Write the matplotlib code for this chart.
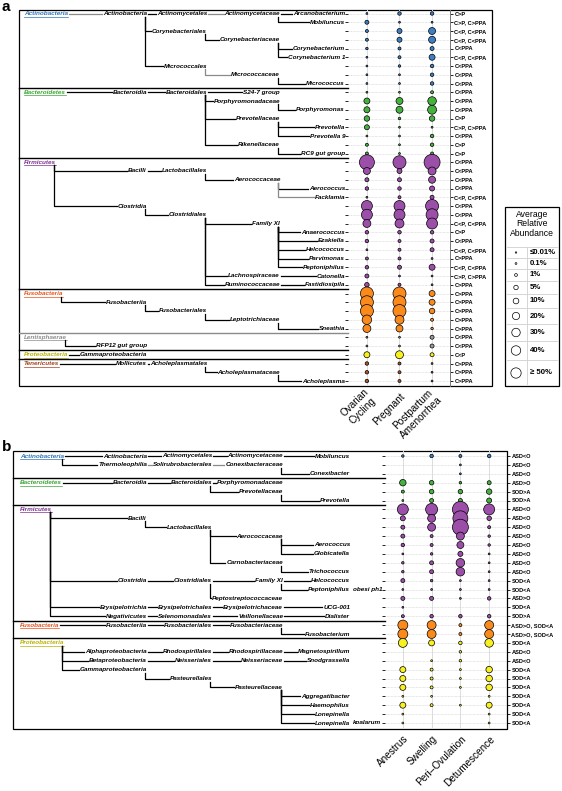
import matplotlib
matplotlib.use('Agg')
import matplotlib.pyplot as plt
from matplotlib.transforms import ScaledTranslation
import numpy as np

plt.rcParams['font.family'] = ['Liberation Sans', 'DejaVu Sans']

W, H = 562, 791
nan = float('nan')

# ---------------- panel a: average relative abundance (%) ----------------
a_states = ['Ovarian\nCycling', 'Pregnant', 'Postpartum\nAmenorrhea']
a_phylum = (['Actinobacteria'] * 9 + ['Bacteroidetes'] * 8 + ['Firmicutes'] * 15 +
            ['Fusobacteria'] * 5 + ['Lentisphaerae'] * 2 + ['Proteobacteria'] + ['Tenericutes'] * 3)
a_ovarian = [0.01, 1.5, 0.45, 0.45, 0.17, 0.01, 0.01, 0.01, 0.01, 0.01,
             5.8, 5.8, 4.4, 3.3, 0.01, 0.45, 0.45,
             68, 9, 1.5, 0.9, 0.01, 31, 31, 13, 0.9, 0.9, 0.01, 0.45, 0.9, 1.5, 2.3,
             48, 48, 48, 21, 13,
             0.01, 0.01,
             5.8,
             0.9, 0.9, 0.9]
a_pregnant = [0.9, 0.01, 3.3, 3.3, 0.45, 0.45, 0.17, 0.01, 0.01, 0.01,
              9, 9, 0.17, 0.01, 0.01, 0.01, 0.01,
              48, 3.3, 1.5, 0.9, 0.45, 31, 31, 18, 0.9, 0.45, 0.45, 0.45, 1.5, 0.01, 0.45,
              48, 48, 48, 18, 9,
              0.01, 0.01,
              13,
              0.45, 0.45, 0.45]
a_postpartum = [0.9, 0.01, 9, 9, 1.5, 5.8, 0.9, 0.9, 0.9, 0.45,
                16, 18, 4.4, 0.01, 0.9, 0.9, 0.45,
                80, 13, 9, 3.3, 1.5, 48, 39, 31, 0.9, 1.5, 1.5, 0.01, 5.8, 0.01, 0.01,
                5.8, 5.8, 4.4, 0.45, 0.17,
                1.5, 1.5,
                1.5,
                0.01, 0.01, 0.01]
a_tests = ['C>P', 'C>P, C>PPA', 'C<P, C<PPA', 'C<P, C<PPA', 'C<PPA', 'C<P, C<PPA', 'C<PPA',
           'C<PPA', 'C<PPA',
           'C<PPA', 'C<PPA', 'C<PPA', 'C>P', 'C>P, C>PPA', 'C<PPA', 'C>P', 'C>P',
           'C<PPA', 'C<PPA', 'C<PPA', 'C<PPA', 'C<P, C<PPA', 'C<PPA', 'C<PPA', 'C<P, C<PPA',
           'C>P', 'C<PPA', 'C<P, C<PPA', 'C>PPA', 'C<P, C<PPA', 'C>P, C>PPA', 'C>PPA',
           'C>PPA', 'C>PPA', 'C>PPA', 'C>PPA', 'C>PPA',
           'C<PPA', 'C<PPA',
           'C<P',
           'C>PPA', 'C>PPA', 'C>PPA']

# ---------------- panel b ----------------
b_states = ['Anestrus', 'Swelling', 'Peri\u2013Ovulation', 'Detumescence']
b_phylum = (['Actinobacteria'] * 3 + ['Bacteroidetes'] * 3 + ['Firmicutes'] * 13 +
            ['Fusobacteria'] * 2 + ['Proteobacteria'] * 10)
b_anestrus = [0.17, nan, nan, 7.3, 0.45, 0.01,
              31, 3.3, 1.5, 1.5, 0.9, 0.01, 0.17, 0.17, 1.5, 0.01, 1.5, 0.01, 0.45,
              24, 24,
              18, nan, nan, 5.8, 5.8, 5.8, 0.01, 5.8, 0.01, 0.01]
b_swelling = [0.9, nan, nan, 2.3, 2.3, 1.5,
              39, 13, 13, 0.45, 0.45, 0.17, 1.5, 1.5, 0.17, 0.01, 1.5, nan, 0.9,
              18, 18,
              5.8, nan, 0.01, 0.45, 0.45, 0.45, 0.01, 0.45, nan, nan]
b_periov = [0.45, 0.01, 0.01, 0.17, 2.3, 1.5,
            80, 68, 80, 13, 9, 3.3, 16, 16, 0.01, 0.01, 0.01, nan, 0.9,
            0.45, 0.45,
            0.9, 0.17, 0.17, 0.01, 0.01, 0.01, nan, 0.01, nan, nan]
b_detum = [0.9, nan, nan, 1.5, 4.4, 3.3,
           31, 2.3, 0.45, 0.17, 0.17, 0.01, 0.01, 0.01, 0.01, 0.01, 0.9, nan, 0.9,
           18, 18,
           16, nan, nan, 7.3, 7.3, 7.3, 0.01, 5.8, 0.01, 0.01]
b_tests = ['ASD<O', 'ASD<O', 'ASD<O', 'ASD>O', 'SOD>A', 'SOD>A',
           'ASD<O', 'ASD<O', 'ASD<O', 'ASD<O', 'ASD<O', 'ASD<O', 'ASD<O', 'ASD<O',
           'SOD<A', 'SOD<A', 'ASD>O', 'SOD<A', 'SOD>A',
           'ASD>O, SOD<A', 'ASD>O, SOD<A',
           'SOD<A', 'ASD<O', 'ASD<O', 'SOD<A', 'SOD<A', 'SOD<A', 'SOD<A', 'SOD<A',
           'SOD<A', 'SOD<A']

# taxonomy trees: (key, label, row, level, parent, grey branch)
tree_a = [
    ('p_act', 'Actinobacteria', 0, 0, None, False),
    ('c_act', 'Actinobacteria', 0, 1, 'p_act', True),
    ('o_acm', 'Actinomycetales', 0, 2, 'c_act', False),
    ('f_acm', 'Actinomycetaceae', 0, 3, 'o_acm', True),
    ('g_arc', 'Arcanobacterium', 0, 4, 'f_acm', False),
    ('g_mob', 'Mobiluncus', 1, 4, 'f_acm', False),
    ('o_cor', 'Corynebacteriales', 2, 2, 'c_act', False),
    ('f_cor', 'Corynebacteriaceae', 3, 3, 'o_cor', False),
    ('g_cor', 'Corynebacterium', 4, 4, 'f_cor', False),
    ('g_co1', 'Corynebacterium 1', 5, 4, 'f_cor', False),
    ('o_mic', 'Micrococcales', 6, 2, 'c_act', False),
    ('f_mic', 'Micrococcaceae', 7, 3, 'o_mic', True),
    ('g_mic', 'Micrococcus', 8, 4, 'f_mic', False),
    ('p_bac', 'Bacteroidetes', 9, 0, None, False),
    ('c_bac', 'Bacteroidia', 9, 1, 'p_bac', False),
    ('o_bac', 'Bacteroidales', 9, 2, 'c_bac', False),
    ('f_s24', 'S24-7 group', 9, 3, 'o_bac', False),
    ('f_por', 'Porphyromonadaceae', 10, 3, 'o_bac', False),
    ('g_por', 'Porphyromonas', 11, 4, 'f_por', False),
    ('f_pre', 'Prevotellaceae', 12, 3, 'o_bac', False),
    ('g_pre', 'Prevotella', 13, 4, 'f_pre', False),
    ('g_pr9', 'Prevotella 9', 14, 4, 'f_pre', False),
    ('f_rik', 'Rikenellaceae', 15, 3, 'o_bac', False),
    ('g_rc9', 'RC9 gut group', 16, 4, 'f_rik', False),
    ('p_fir', 'Firmicutes', 17, 0, None, False),
    ('c_bci', 'Bacilli', 18, 1, 'p_fir', False),
    ('o_lac', 'Lactobacillales', 18, 2, 'c_bci', False),
    ('f_aer', 'Aerococcaceae', 19, 3, 'o_lac', False),
    ('g_aer', 'Aerococcus', 20, 4, 'f_aer', False),
    ('g_fac', 'Facklamia', 21, 4, 'f_aer', True),
    ('c_clo', 'Clostridia', 22, 1, 'p_fir', False),
    ('o_clo', 'Clostridiales', 23, 2, 'c_clo', False),
    ('f_fxi', 'Family XI', 24, 3, 'o_clo', False),
    ('g_ana', 'Anaerococcus', 25, 4, 'f_fxi', False),
    ('g_eza', 'Ezakiella', 26, 4, 'f_fxi', False),
    ('g_hel', 'Helcococcus', 27, 4, 'f_fxi', False),
    ('g_par', 'Parvimonas', 28, 4, 'f_fxi', False),
    ('g_pep', 'Peptoniphilus', 29, 4, 'f_fxi', False),
    ('f_lch', 'Lachnospiraceae', 30, 3, 'o_clo', False),
    ('g_cat', 'Catonella', 30, 4, 'f_lch', False),
    ('f_rum', 'Ruminococcaceae', 31, 3, 'o_clo', False),
    ('g_fas', 'Fastidiosipila', 31, 4, 'f_rum', False),
    ('p_fus', 'Fusobacteria', 32, 0, None, False),
    ('c_fus', 'Fusobacteriia', 33, 1, 'p_fus', False),
    ('o_fus', 'Fusobacteriales', 34, 2, 'c_fus', False),
    ('f_lep', 'Leptotrichiaceae', 35, 3, 'o_fus', False),
    ('g_sne', 'Sneathia', 36, 4, 'f_lep', False),
    ('p_len', 'Lentisphaerae', 37, 0, None, False),
    ('c_rfp', 'RFP12 gut group', 38, 1, 'p_len', False),
    ('p_pro', 'Proteobacteria', 39, 0, None, False),
    ('c_gam', 'Gammaproteobacteria', 39, 1, 'p_pro', False),
    ('p_ten', 'Tenericutes', 40, 0, None, False),
    ('c_mol', 'Mollicutes', 40, 1, 'p_ten', False),
    ('o_ach', 'Acholeplasmatales', 40, 2, 'c_mol', False),
    ('f_ach', 'Acholeplasmataceae', 41, 3, 'o_ach', False),
    ('g_ach', 'Acholeplasma', 42, 4, 'f_ach', False),
]
tree_b = [
    ('p_act', 'Actinobacteria', 0, 0, None, False),
    ('c_act', 'Actinobacteria', 0, 1, 'p_act', False),
    ('o_act', 'Actinomycetales', 0, 2, 'c_act', False),
    ('f_act', 'Actinomycetaceae', 0, 3, 'o_act', False),
    ('g_mob', 'Mobiluncus', 0, 4, 'f_act', False),
    ('c_the', 'Thermoleophilia', 1, 1, 'p_act', False),
    ('o_sol', 'Solirubrobacterales', 1, 2, 'c_the', True),
    ('f_con', 'Conexibacteraceae', 1, 3, 'o_sol', True),
    ('g_con', 'Conexibacter', 2, 4, 'f_con', False),
    ('p_bac', 'Bacteroidetes', 3, 0, None, False),
    ('c_bac', 'Bacteroidia', 3, 1, 'p_bac', False),
    ('o_bac', 'Bacteroidales', 3, 2, 'c_bac', False),
    ('f_por', 'Porphyromonadaceae', 3, 3, 'o_bac', False),
    ('f_pre', 'Prevotellaceae', 4, 3, 'o_bac', False),
    ('g_pre', 'Prevotella', 5, 4, 'f_pre', False),
    ('p_fir', 'Firmicutes', 6, 0, None, False),
    ('c_bci', 'Bacilli', 7, 1, 'p_fir', False),
    ('o_lac', 'Lactobacillales', 8, 2, 'c_bci', False),
    ('f_aer', 'Aerococcaceae', 9, 3, 'o_lac', False),
    ('g_aer', 'Aerococcus', 10, 4, 'f_aer', False),
    ('g_glo', 'Globicatella', 11, 4, 'f_aer', False),
    ('f_car', 'Carnobacteriaceae', 12, 3, 'o_lac', False),
    ('g_tri', 'Trichococcus', 13, 4, 'f_car', False),
    ('c_clo', 'Clostridia', 14, 1, 'p_fir', False),
    ('o_clo', 'Clostridiales', 14, 2, 'c_clo', False),
    ('f_fxi', 'Family XI', 14, 3, 'o_clo', False),
    ('g_hel', 'Helcococcus', 14, 4, 'f_fxi', False),
    ('g_pep', 'Peptoniphilus', 15, 4, 'f_fxi', False),
    ('f_pst', 'Peptostreptococcaceae', 16, 3, 'o_clo', False),
    ('c_ery', 'Erysipelotrichia', 17, 1, 'p_fir', False),
    ('o_ery', 'Erysipelotrichales', 17, 2, 'c_ery', False),
    ('f_ery', 'Erysipelotrichaceae', 17, 3, 'o_ery', False),
    ('g_ucg', 'UCG-001', 17, 4, 'f_ery', False),
    ('c_neg', 'Negativicutes', 18, 1, 'p_fir', False),
    ('o_sel', 'Selenomonadales', 18, 2, 'c_neg', False),
    ('f_vei', 'Veillonellaceae', 18, 3, 'o_sel', False),
    ('g_dia', 'Dialister', 18, 4, 'f_vei', False),
    ('p_fus', 'Fusobacteria', 19, 0, None, False),
    ('c_fus', 'Fusobacteriia', 19, 1, 'p_fus', False),
    ('o_fus', 'Fusobacteriales', 19, 2, 'c_fus', False),
    ('f_fus', 'Fusobacteriaceae', 19, 3, 'o_fus', False),
    ('g_fus', 'Fusobacterium', 20, 4, 'f_fus', False),
    ('p_pro', 'Proteobacteria', 21, 0, None, False),
    ('c_alp', 'Alphaproteobacteria', 22, 1, 'p_pro', False),
    ('o_rho', 'Rhodospirillales', 22, 2, 'c_alp', False),
    ('f_rho', 'Rhodospirillaceae', 22, 3, 'o_rho', False),
    ('g_mag', 'Magnetospirillum', 22, 4, 'f_rho', False),
    ('c_bet', 'Betaproteobacteria', 23, 1, 'p_pro', False),
    ('o_nei', 'Neisseriales', 23, 2, 'c_bet', False),
    ('f_nei', 'Neisseriaceae', 23, 3, 'o_nei', False),
    ('g_sno', 'Snodgrassella', 23, 4, 'f_nei', False),
    ('c_gam', 'Gammaproteobacteria', 24, 1, 'p_pro', False),
    ('o_pas', 'Pasteurellales', 25, 2, 'c_gam', False),
    ('f_pas', 'Pasteurellaceae', 26, 3, 'o_pas', False),
    ('g_agg', 'Aggregatibacter', 27, 4, 'f_pas', False),
    ('g_hae', 'Haemophilus', 28, 4, 'f_pas', False),
    ('g_lon', 'Lonepinella', 29, 4, 'f_pas', False),
    ('g_lok', 'Lonepinella', 30, 4, 'f_pas', False),
]
suffix_b = {'g_pep': 'obesi ph1', 'g_lok': 'koalarum'}

leg_levels = [0.01, 0.1, 1, 5, 10, 20, 30, 40, 50]
leg_labels = ['\u22640.01%', '0.1%', '1%', '5%', '10%', '20%', '30%', '40%', '\u2265 50%']

dot_colors = {'Actinobacteria': '#3d7fc6', 'Bacteroidetes': '#46b13f', 'Firmicutes': '#9c4fa8',
              'Fusobacteria': '#fb8a1c', 'Lentisphaerae': '#9a9a9a', 'Proteobacteria': '#f8f01f',
              'Tenericutes': '#a5562b'}
name_colors = {'Actinobacteria': '#2f72b8', 'Bacteroidetes': '#3aa634', 'Firmicutes': '#7e2f90',
               'Fusobacteria': '#e8521b', 'Lentisphaerae': '#8c8c8c', 'Proteobacteria': '#b9b400',
               'Tenericutes': '#a2401f'}


def diam(p):
    # marker diameter (px) for a relative abundance in %
    return 1.6 + 2.0 * np.power(p, 0.45)


def msize(p, k=1.0):
    return (k * diam(np.asarray(p, float)) * 0.72) ** 2


fig = plt.figure(figsize=(W / 100, H / 100), dpi=100)
bg = fig.add_axes([0, 0, 1, 1])
bg.set_xlim(0, W)
bg.set_ylim(H, 0)
bg.axis('off')
rend = fig.canvas.get_renderer()


def px_axes(x0, y0, x1, y1):
    return fig.add_axes([x0 / W, 1 - y1 / H, (x1 - x0) / W, (y1 - y0) / H])


def draw_tree(nodes, y0, dy, px, cols, suffix={}):
    ext = {}
    fs = 4.6
    for key, label, row, lev, parent, grey in nodes:
        y = y0 + row * dy
        if lev == 0:
            t = bg.text(px, y, label, ha='left', va='center', fontsize=fs, style='italic',
                        weight='bold', color=name_colors[label])
        else:
            t = bg.text(cols[lev - 1], y, label, ha='right', va='center', fontsize=fs,
                        style='italic', weight='bold', color='black')
        bb = t.get_window_extent(renderer=rend)
        ext[key] = (bb.x0, bb.x1, row)
        if lev == 0:
            bg.plot([bb.x0, bb.x1], [y + 3, y + 3], color=name_colors[label], lw=0.5)
        if key in suffix:
            bg.text(bb.x1 + 3, y, suffix[key], ha='left', va='center', fontsize=fs,
                    style='italic', weight='bold', color='black')
    for key, label, row, lev, parent, grey in nodes:
        if parent is None:
            continue
        p0, p1, prow = ext[parent]
        c0, c1, crow = ext[key]
        col = '#8a8a8a' if grey else 'black'
        y = y0 + crow * dy
        if crow == prow:
            bg.plot([p1 + 1, c0 - 1], [y, y], color=col, lw=0.9)
        else:
            vx = p1 - 2
            bg.plot([vx, vx, c0 - 1], [y0 + prow * dy + 3, y, y], color=col, lw=0.9)


def dot_panel(ax, values, phyla, tests, states, xlim, ylim):
    rows = np.arange(len(tests))
    for j, vals in enumerate(values):
        vals = np.asarray(vals, float)
        ok = np.isfinite(vals)
        ax.scatter(np.full(ok.sum(), j), rows[ok], s=msize(vals[ok]),
                   c=[dot_colors[p] for p, k in zip(phyla, ok) if k],
                   edgecolors='black', linewidths=0.5, zorder=3)
    ax.set_facecolor('none')
    ax.set_xlim(*xlim)
    ax.set_ylim(*ylim)
    ax.set_yticks(rows)
    ax.set_yticklabels(tests, fontsize=4.1, weight='bold')
    ax.tick_params(axis='y', left=True, right=True, labelleft=False, labelright=True,
                   length=2.2, width=0.6, pad=1, direction='out')
    ax.set_xticks(range(len(states)))
    ax.set_xticklabels(states, rotation=45, ha='right', va='center', rotation_mode='anchor',
                       fontsize=7.2, multialignment='center')
    ax.tick_params(axis='x', length=0, pad=6)
    off = ScaledTranslation(4 / 100, 0, fig.dpi_scale_trans)
    for lbl in ax.get_xticklabels():
        lbl.set_transform(lbl.get_transform() + off)
    ax.set_axisbelow(True)
    ax.grid(True, axis='y', color='#d0d0d0', lw=0.5, ls=(0, (1, 1)))
    ax.grid(True, axis='x', color='#dcdcdc', lw=0.7)
    for s in ('left', 'top', 'bottom'):
        ax.spines[s].set_visible(False)
    ax.spines['right'].set_color('#777777')
    ax.spines['right'].set_linewidth(0.7)


# ---- panel a ----
ay0, ady = 13.5, 8.75
a_top, a_bot = 9.5, 386
bg.add_patch(plt.Rectangle((19, a_top), 492 - 19, a_bot - a_top, fill=False, ec='black', lw=0.9))
draw_tree(tree_a, ay0, ady, 24, [147, 207, 280, 345])
for r, c in [(8.5, 'black'), (16.5, 'black'), (31.5, 'black'), (36.5, '#8a8a8a'),
             (38.5, 'black'), (39.5, 'black')]:
    y = ay0 + r * ady
    bg.plot([19, 348], [y, y], color=c, lw=1.0)
axa = px_axes(348, a_top, 450, a_bot)
dot_panel(axa, [a_ovarian, a_pregnant, a_postpartum], a_phylum, a_tests, a_states,
          (-0.58, 2.55), ((a_bot - ay0) / ady, (a_top - ay0) / ady))

# ---- panel b ----
by0, bdy = 456, 8.9
b_top, b_bot = 451, 729
bg.add_patch(plt.Rectangle((13, b_top), 507 - 13, b_bot - b_top, fill=False, ec='black', lw=0.9))
draw_tree(tree_b, by0, bdy, 20, [147, 212, 283, 350], suffix_b)
for r in [2.5, 5.5, 18.5, 20.5]:
    y = by0 + r * bdy
    bg.plot([13, 385], [y, y], color='black', lw=1.0)
axb = px_axes(385, b_top, 507, b_bot)
dot_panel(axb, [b_anestrus, b_swelling, b_periov, b_detum], b_phylum, b_tests, b_states,
          (-0.62, 3.62), ((b_bot - by0) / bdy, (b_top - by0) / bdy))
axb.spines['right'].set_color('black')

# ---- legend ----
lx0, lx1, lmid = 505, 559, 527
ly0, lhead = 207, 247
leg_h = [11, 11, 12, 13, 14, 16, 17, 19, 26]
bg.add_patch(plt.Rectangle((lx0, ly0), lx1 - lx0, lhead + sum(leg_h) - ly0, fill=False,
                           ec='black', lw=0.9))
bg.text((lx0 + lx1) / 2, ly0 + 3, 'Average\nRelative\nAbundance', ha='center', va='top',
        fontsize=6.2, linespacing=1.05)
edges = lhead + np.concatenate([[0], np.cumsum(leg_h)])
centers = (edges[:-1] + edges[1:]) / 2
for e in edges[:-1]:
    bg.plot([lx0 + 2, lx1 - 2], [e, e], color='#cfcfcf', lw=0.6)
bg.plot([lmid, lmid], [edges[0], edges[-1] - 2], color='#cfcfcf', lw=0.6)
bg.scatter(np.full(len(leg_levels), (lx0 + lmid) / 2), centers, s=msize(leg_levels, 0.78),
           facecolors='white', edgecolors='black', linewidths=0.5, zorder=3)
for c, lab in zip(centers, leg_labels):
    bg.text(lmid + 3, c, lab, ha='left', va='center', fontsize=5.6, weight='bold')

bg.text(2, 0, 'a', ha='left', va='top', fontsize=11, weight='bold')
bg.text(2, 440, 'b', ha='left', va='top', fontsize=11, weight='bold')

fig.savefig('out.png', dpi=100)
